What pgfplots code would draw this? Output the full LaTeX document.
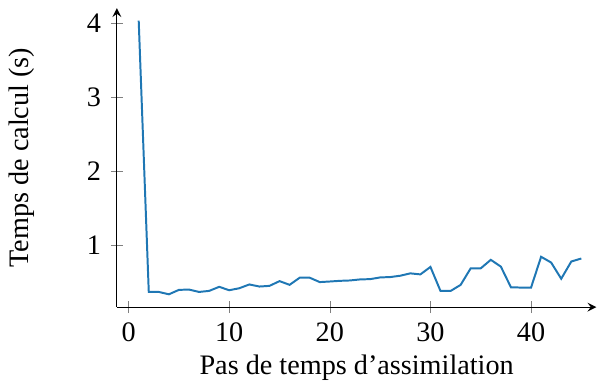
\documentclass[border=0pt]{standalone}
\usepackage{fontspec}
\setmainfont{Liberation Serif}
\usepackage{pgfplots}
\pgfplotsset{compat=1.18}
\definecolor{lineblue}{RGB}{31,119,180}
\begin{document}
\begin{tikzpicture}
\begin{axis}[
  scale only axis,
  width=170pt, height=106pt,
  axis lines=left,
  xmin=-1.17, xmax=46.5,
  ymin=0.16, ymax=4.2,
  xtick={0,10,20,30,40},
  ytick={1,2,3,4},
  tick align=center,
  /pgf/number format/assume math mode=true,
  xlabel={Pas de temps d’assimilation},
  ylabel={Temps de calcul (s)},
  every axis x label/.style={at={(rel axis cs:0.5,0)},anchor=north,yshift=-13.3pt},
  every axis y label/.style={at={(rel axis cs:0,0.5)},rotate=90,anchor=south,yshift=25.5pt},
]
\addplot[color=lineblue, line width=0.7pt] coordinates {
(1,4.03) (2,0.365) (3,0.365) (4,0.333) (5,0.393) (6,0.397) (7,0.365) (8,0.379)
(9,0.434) (10,0.388) (11,0.415) (12,0.466) (13,0.438) (14,0.447) (15,0.511)
(16,0.461) (17,0.557) (18,0.557) (19,0.498) (20,0.506) (21,0.515) (22,0.52)
(23,0.534) (24,0.538) (25,0.561) (26,0.566) (27,0.584) (28,0.616) (29,0.602)
(30,0.703) (31,0.378) (32,0.378) (33,0.46) (34,0.684) (35,0.684) (36,0.799)
(37,0.707) (38,0.428) (39,0.424) (40,0.424) (41,0.84) (42,0.762) (43,0.543)
(44,0.776) (45,0.817)
};
\end{axis}
\path (current bounding box.north) ++(0,1.5pt);
\end{tikzpicture}
\end{document}
